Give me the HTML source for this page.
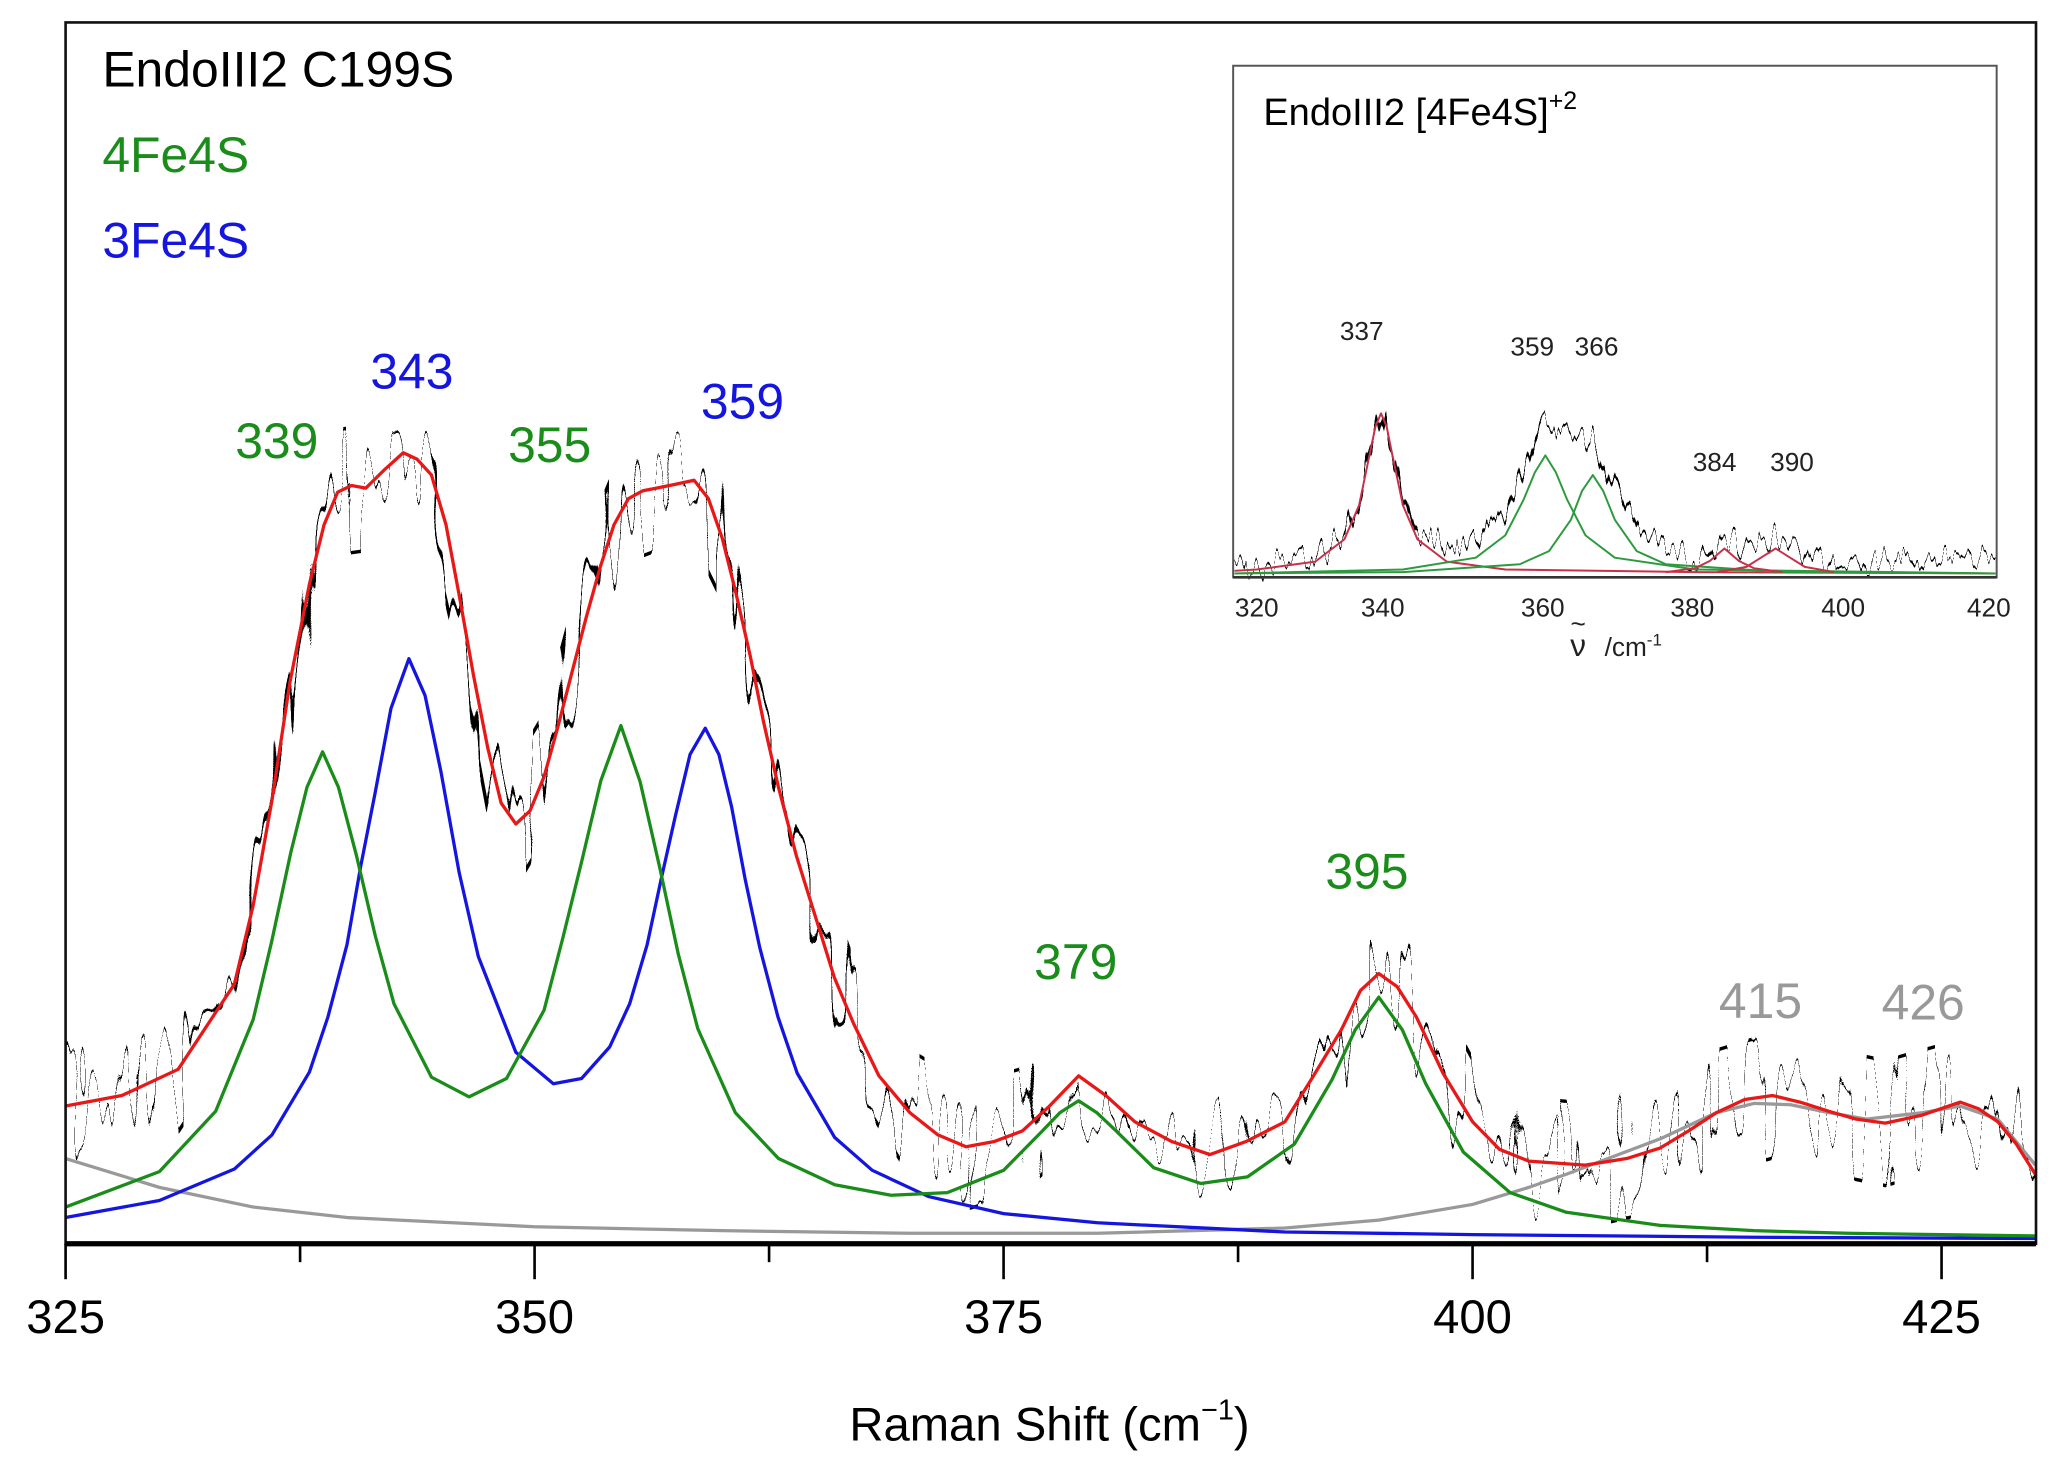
<!DOCTYPE html>
<html><head><meta charset="utf-8">
<style>html,body{margin:0;padding:0;background:#fff;}svg{display:block;}</style>
</head><body>
<svg width="2057" height="1484" viewBox="0 0 1568 1131" xmlns="http://www.w3.org/2000/svg" font-family="Liberation Sans, sans-serif">
<defs>
<filter id="nz" x="-2%" y="-30%" width="104%" height="160%" color-interpolation-filters="sRGB">
<feTurbulence type="fractalNoise" baseFrequency="0.09 0.008" numOctaves="2" seed="4" result="t"/>
<feColorMatrix in="t" type="matrix" values="0 0 0 0 0.5  2.4 0 0 0 -0.7  0 0 0 0 0  0 0 0 0 1" result="m"/>
<feDisplacementMap in="SourceGraphic" in2="m" scale="95" xChannelSelector="R" yChannelSelector="G"/>
</filter>
<filter id="nz2" x="-2%" y="-30%" width="104%" height="160%" color-interpolation-filters="sRGB">
<feTurbulence type="fractalNoise" baseFrequency="0.2 0.01" numOctaves="2" seed="9" result="t"/>
<feColorMatrix in="t" type="matrix" values="0 0 0 0 0.5  2.2 0 0 0 -0.6  0 0 0 0 0  0 0 0 0 1" result="m"/>
<feDisplacementMap in="SourceGraphic" in2="m" scale="22" xChannelSelector="R" yChannelSelector="G"/>
</filter>
</defs>
<rect x="0" y="0" width="1568" height="1131" fill="#fff"/>
<g fill="none" stroke-linejoin="round">
<polyline filter="url(#nz)" stroke="#000" stroke-width="2.6" points="50,843 92.9,835 135.8,815 178.7,750 207.3,610 235.9,445 257.4,375 278.8,372 307.4,345 328.9,362 350.3,455 371.8,570 393.2,628 414.7,592 436.1,512 457.6,432 479,380 500.5,372 529.1,366 550.5,410 571.9,500 593.4,600 622,700 650.6,780 693.5,848 736.4,874 779.3,862 822.2,820 865.1,855 922.3,880 979.5,855 1022.4,785 1051,742 1079.6,775 1122.5,855 1165.4,885 1208.3,888 1265.5,875 1308.4,848 1351.3,835 1394.2,847 1437.1,856 1494.3,840 1522.9,855 1551.5,895"/>
<polyline stroke="#999" stroke-width="2.5" points="50,883 121.5,905 193,920 264.5,928 407.5,935 550.5,938 693.5,940 836.5,940 979.5,936 1051,930 1122.5,918 1165.4,905 1194,895 1265.5,868 1308.4,848 1337,841 1365,842 1394.2,848 1422.8,853 1465.7,848 1494.3,843 1522.9,853 1551.5,888"/>
<polyline stroke="#1515e0" stroke-width="2.5" points="50,928 121.5,915 178.7,891 207.3,865 235.9,817 250,775 264.5,720 275,660 286,604 298,540 311.7,502 324,530 336.1,588 350,665 364.6,729 393.2,802 421.8,826 443.3,822 464.7,798 480,765 493.3,720 504,670 514.8,622 526,575 537.6,555 548,575 557.7,615 568,670 579.1,722 593,775 607.7,818 636.3,867 664.9,892 707.8,912 765,925 836.5,932 979.5,939 1122.5,941 1337,943 1551.5,944"/>
<polyline stroke="#1a8c1a" stroke-width="2.5" points="50,920 121.5,893 164.4,847 193,777 207,718 221.6,650 234,600 245.9,573 258,600 271.7,652 286,713 300.3,765 328.9,821 357.5,836 386.1,822 414.7,770 429,715 443.3,657 458,595 473.3,553 488,596 503.3,663 517,727 531.9,784 560.5,848 593.4,883 636.3,903 679.2,911 722.1,909 765,892 793.6,863 808,848 822.2,839 836,848 850.8,862 879.4,890 915.2,902 950.9,897 986.7,872 1015.3,823 1033,785 1051,760 1069,785 1086.8,826 1115.4,878 1151.1,909 1194,924 1265.5,934 1337,938 1408.5,940 1551.5,942"/>
<polyline stroke="#e81818" stroke-width="2.5" points="50,843 92.9,835 135.8,815 178.7,750 193,690 207.3,610 221,520 235.9,445 247,400 257.4,375 268,370 278.8,372 293,358 307.4,345 318,350 328.9,362 340,400 350.3,455 361,515 371.8,570 382,612 393.2,628 404,618 414.7,592 425,555 436.1,512 447,470 457.6,432 468,400 479,380 490,374 500.5,372 515,369 529.1,366 540,380 550.5,410 561,452 571.9,500 582,550 593.4,600 607,652 622,700 636,745 650.6,780 670,820 693.5,848 715,865 736.4,874 758,870 779.3,862 800,843 822.2,820 843,835 865.1,855 893,870 922.3,880 950,870 979.5,855 1000,822 1022.4,785 1037,755 1051,742 1065,752 1079.6,775 1100,818 1122.5,855 1143,876 1165.4,885 1208.3,888 1240,883 1265.5,875 1287,862 1308.4,848 1330,838 1351.3,835 1372,840 1394.2,847 1415,853 1437.1,856 1465,850 1494.3,840 1508,845 1522.9,855 1537,872 1551.5,895"/>
</g>
<rect x="50" y="17" width="1502" height="931" fill="none" stroke="#111" stroke-width="2"/>
<line x1="50" y1="948" x2="1552" y2="948" stroke="#000" stroke-width="4"/>
<g stroke="#000" stroke-width="2">
<line x1="50" y1="948" x2="50" y2="975"/><line x1="407.5" y1="948" x2="407.5" y2="975"/>
<line x1="765" y1="948" x2="765" y2="975"/><line x1="1122.5" y1="948" x2="1122.5" y2="975"/>
<line x1="1480" y1="948" x2="1480" y2="975"/>
<line x1="228.75" y1="948" x2="228.75" y2="962"/><line x1="586.25" y1="948" x2="586.25" y2="962"/>
<line x1="943.75" y1="948" x2="943.75" y2="962"/><line x1="1301.25" y1="948" x2="1301.25" y2="962"/>
</g>
<g font-size="36" text-anchor="middle" fill="#000">
<text x="50" y="1016">325</text><text x="407.5" y="1016">350</text><text x="765" y="1016">375</text>
<text x="1122.5" y="1016">400</text><text x="1480" y="1016">425</text>
</g>
<text x="800" y="1098" font-size="36" text-anchor="middle">Raman Shift (cm<tspan dy="-16" font-size="22">−1</tspan><tspan dy="16">)</tspan></text>
<text x="78" y="66" font-size="38">EndoIII2 C199S</text>
<text x="78" y="131" font-size="38" fill="#1a8c1a">4Fe4S</text>
<text x="78" y="196" font-size="38" fill="#1515e0">3Fe4S</text>
<g font-size="38" text-anchor="middle">
<text x="211" y="349" fill="#1a8c1a">339</text>
<text x="314" y="296" fill="#1515e0">343</text>
<text x="419" y="352" fill="#1a8c1a">355</text>
<text x="566" y="319" fill="#1515e0">359</text>
<text x="820" y="746" fill="#1a8c1a">379</text>
<text x="1042" y="677" fill="#1a8c1a">395</text>
<text x="1342" y="776" fill="#999">415</text>
<text x="1466" y="777" fill="#999">426</text>
</g>
<rect x="940" y="50" width="582" height="390" fill="#fff" stroke="#555" stroke-width="1.5"/>
<g fill="none" stroke-linejoin="round">
<polyline filter="url(#nz2)" stroke="#000" stroke-width="1.8" points="941,432 958,432 1002.6,426 1024.8,408 1036,382 1044.3,342 1052.7,312 1061,342 1069.4,382 1080.5,405 1102.8,418 1125,410 1147.4,388 1161.3,355 1175.2,325 1192,322 1203,330 1214.2,335 1230.9,370 1247.6,400 1269.9,420 1292.2,424 1314.5,410 1331.2,418 1353.5,410 1375.8,420 1403.6,428 1459.3,428 1515,426 1521,426"/>
<polyline stroke="#c8304a" stroke-width="1.5" points="941,435 958,434 1002.6,428 1024.8,411 1036,385 1044.3,345 1048.5,325 1052.7,315 1057,325 1061,345 1069.4,385 1080.5,411 1102.8,428 1147.4,434 1292.2,436 1521,437"/>
<polyline stroke="#2e9a3e" stroke-width="1.5" points="941,437 1069.4,434 1125,425 1147.4,408 1161.3,381 1170,360 1178,347 1186,360 1194.7,381 1208.6,408 1230.9,425 1292.2,434 1521,437"/>
<polyline stroke="#2e9a3e" stroke-width="1.5" points="941,437 1069.4,436 1158.5,430 1180.8,420 1197.5,396 1206,374 1214.2,362 1222,374 1230.9,396 1247.6,420 1269.9,430 1359,436 1521,437"/>
<polyline stroke="#c8304a" stroke-width="1.5" points="1269.9,436 1292.2,433 1303.3,427.5 1314.5,418 1325.6,427.5 1336.8,433 1359,436"/>
<polyline stroke="#c8304a" stroke-width="1.5" points="1308.9,436 1331.2,432 1342.3,425 1353.5,418 1364.6,425 1375.8,432 1398,436"/>
</g>
<line x1="940" y1="440" x2="1522" y2="440" stroke="#333" stroke-width="2"/>
<text x="963" y="95" font-size="29">EndoIII2 [4Fe4S]<tspan dy="-12" font-size="19">+2</tspan></text>
<g font-size="20" text-anchor="middle" fill="#222">
<text x="1038" y="259">337</text><text x="1168" y="271">359</text><text x="1217" y="271">366</text>
<text x="1307" y="359">384</text><text x="1366" y="359">390</text>
<text x="958" y="470">320</text><text x="1054" y="470">340</text><text x="1176" y="470">360</text>
<text x="1290" y="470">380</text><text x="1405" y="470">400</text><text x="1516" y="470">420</text>
<text x="1203" y="500" font-size="24">ν</text><text x="1203" y="482" font-size="20">~</text>
<text x="1245" y="500">/cm<tspan dy="-8" font-size="13">-1</tspan></text>
</g>
</svg>
</body></html>
